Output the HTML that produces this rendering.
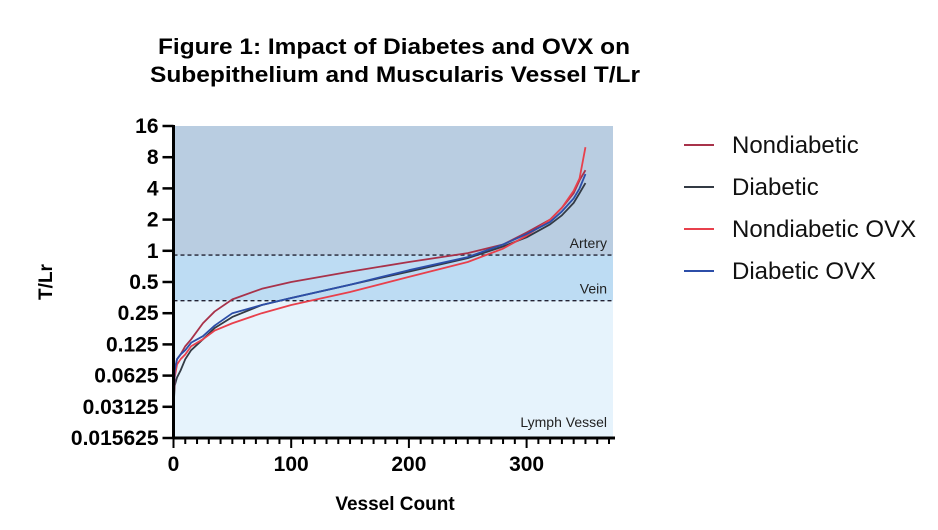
<!DOCTYPE html>
<html><head><meta charset="utf-8"><style>
body{margin:0;background:#fff;width:938px;height:525px;overflow:hidden;font-family:"Liberation Sans",Arial,sans-serif}
</style></head><body>
<svg id="c" width="938" height="525" xmlns="http://www.w3.org/2000/svg">
<text x="158" y="54" textLength="472" lengthAdjust="spacingAndGlyphs" font-size="22" font-weight="bold">Figure 1: Impact of Diabetes and OVX on</text>
<text x="150" y="82" textLength="490" lengthAdjust="spacingAndGlyphs" font-size="22" font-weight="bold">Subepithelium and Muscularis Vessel T/Lr</text>
<g id="plot"></g>
<text x="395" y="510" text-anchor="middle" font-size="19" font-weight="bold">Vessel Count</text>
<text transform="translate(52,282) rotate(-90)" text-anchor="middle" font-size="19" font-weight="bold">T/Lr</text>
</svg>
<script>
const categories = [0,1,3,6,10,15,25,35,50,75,100,150,200,250,280,300,320,330,340,345,350];
const nondiabetic = [0.03,0.07,0.09,0.1,0.12,0.14,0.2,0.26,0.34,0.43,0.5,0.63,0.78,0.95,1.15,1.5,2.0,2.6,3.6,4.8,6];
const diabetic = [0.03,0.05,0.06,0.07,0.09,0.11,0.14,0.18,0.23,0.3,0.35,0.47,0.63,0.85,1.1,1.35,1.8,2.2,2.9,3.6,4.5];
const nondiabeticOvx = [0.03,0.06,0.08,0.09,0.1,0.12,0.14,0.17,0.2,0.25,0.3,0.4,0.56,0.78,1.05,1.4,2.0,2.6,3.8,5,10];
const diabeticOvx = [0.03,0.07,0.09,0.1,0.11,0.13,0.15,0.19,0.25,0.3,0.35,0.47,0.65,0.87,1.15,1.45,1.9,2.4,3.2,4,5.5];
const yTicks = ["16","8","4","2","1","0.5","0.25","0.125","0.0625","0.03125","0.015625"];
const xTicks = [0,100,200,300];
const thresholds = [0.91,0.33];
const NS="http://www.w3.org/2000/svg";
const X0=173.5,XS=1.177,Y16=126,YS=31.2,YB=438,XR=613;
const xp=v=>X0+v*XS;
const yp=v=>Y16+(4-Math.log2(v))*YS;
const g=document.getElementById('plot');
function el(t,a){const e=document.createElementNS(NS,t);for(const k in a)e.setAttribute(k,a[k]);g.appendChild(e);return e;}
let r;
r=el('rect',{x:X0,y:Y16,width:XR-X0,height:yp(thresholds[0])-Y16,fill:'#b9cde1'});


r=el('rect',{x:X0,y:yp(thresholds[0]),width:XR-X0,height:yp(thresholds[1])-yp(thresholds[0]),fill:'#bddcf3'});


r=el('rect',{x:X0,y:yp(thresholds[1]),width:XR-X0,height:YB-yp(thresholds[1]),fill:'#e6f3fc'});


thresholds.forEach((t,i)=>{const l=el('line',{x1:X0,x2:XR,y1:yp(t),y2:yp(t),stroke:'#223',"stroke-width":1.3,"stroke-dasharray":"4,3"});

});
[["Artery",thresholds[0]],["Vein",thresholds[1]]].forEach(([s,t])=>{const e=el('text',{x:607,y:yp(t)-7,"text-anchor":"end","font-size":14,fill:'#222'});e.textContent=s;

});
let lv=el('text',{x:607,y:427,"text-anchor":"end","font-size":14,fill:'#222'});lv.textContent="Lymph Vessel";


const series=[["nondiabetic",nondiabetic,"#a8324a","Nondiabetic"],["diabetic",diabetic,"#333a44","Diabetic"],["nondiabetic-ovx",nondiabeticOvx,"#e8404c","Nondiabetic OVX"],["diabetic-ovx",diabeticOvx,"#2c4ea8","Diabetic OVX"]];
series.forEach(([n,d,c,lab],i)=>{
 const p=el('polyline',{points:categories.map((x,j)=>xp(x)+','+yp(d[j])).join(' '),fill:'none',stroke:c,"stroke-width":1.8,"stroke-linejoin":"round"});
 
 
 const ly=145+i*42;
 const ll=el('line',{x1:684,x2:714,y1:ly,y2:ly,stroke:c,"stroke-width":2});
 
 
 const lt=el('text',{x:732,y:ly+8,"font-size":24,fill:'#111'});lt.textContent=lab;
 
 
});
let ax=el('line',{x1:X0,x2:X0,y1:Y16-1,y2:YB+1,stroke:'#000',"stroke-width":3});


ax=el('line',{x1:X0-1,x2:XR+2,y1:YB,y2:YB,stroke:'#000',"stroke-width":3});


yTicks.forEach((s,i)=>{const y=Y16+i*YS;el('line',{x1:X0-11,x2:X0,y1:y,y2:y,stroke:'#000',"stroke-width":2.5});
 const t=el('text',{x:X0-15,y:y+7,"text-anchor":"end","font-size":21,"font-weight":"bold"});t.textContent=s;
 
 });
for(let v=0;v<=370;v+=10){el('line',{x1:xp(v),x2:xp(v),y1:YB,y2:YB+(v%100?6:10),stroke:'#000',"stroke-width":2});}
xTicks.forEach(v=>{const t=el('text',{x:xp(v),y:YB+33,"text-anchor":"middle","font-size":21,"font-weight":"bold"});t.textContent=v;
 
 });
</script>
</body></html>
